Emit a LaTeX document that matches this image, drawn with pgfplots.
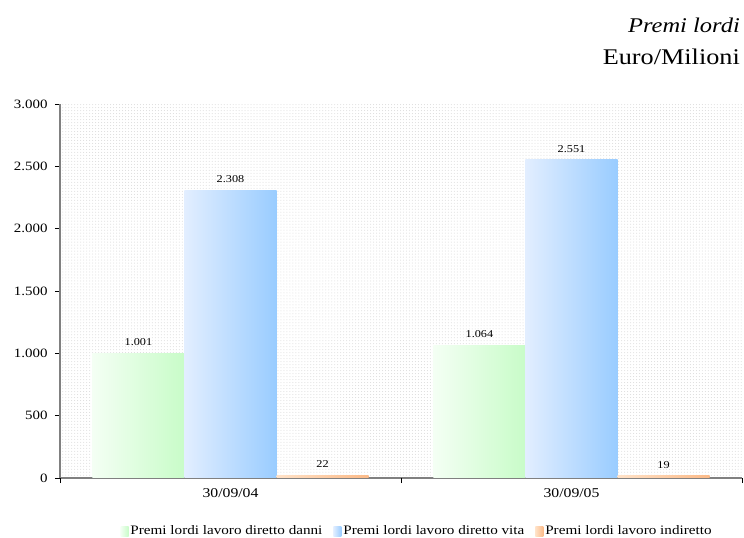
\documentclass[border=0pt]{standalone}
\usepackage{fontspec}
\setmainfont{Liberation Serif}[FakeStretch=1.17]
\usepackage{pgfplots}
\pgfplotsset{compat=1.18}
\usetikzlibrary{patterns}
\definecolor{gL}{HTML}{F4FFF4}
\definecolor{gR}{HTML}{C8FCC8}
\definecolor{bL}{HTML}{E2EEFF}
\definecolor{bR}{HTML}{99CCFF}
\definecolor{oL}{HTML}{FFE2C8}
\definecolor{oR}{HTML}{FBBA88}
\definecolor{axc}{HTML}{808080}
\begin{document}
\begin{tikzpicture}
\path[use as bounding box] (-60bp,-60bp) rectangle (684bp,478bp);
\begin{axis}[
  scale only axis, width=682bp, height=374bp,
  xmin=-0.5, xmax=1.5, ymin=0, ymax=3000,
  axis x line*=bottom, axis y line*=left,
  axis line style={draw=axc, line width=1.5bp},
  axis background/.style={pattern=dots, pattern color=gray!30},
  tick align=outside,
  ytick={0,500,...,3000},
  y tick style={draw=black, line width=0.8bp},
  major tick length=5bp,
  xtick={0,1}, xticklabels={30/09/04,30/09/05},
  x tick style={draw=none},
  extra x ticks={-0.5,0.5,1.5}, extra x tick labels={},
  extra x tick style={x tick style={draw=black, line width=0.8bp}},
  /pgf/number format/.cd, 1000 sep={.}, assume math mode=true,
  /pgfplots/.cd,
  yticklabel style={font=\fontsize{12.8}{13}\selectfont, xshift=-4bp},
  xticklabel style={font=\fontsize{13.5}{14}\selectfont, yshift=-2bp},
  ybar, bar width=0.27,
  nodes near coords,
  every node near coord/.append style={font=\fontsize{10.5}{11}\selectfont, text=black, yshift=4bp},
  legend style={at={(0.5235,-0.142)}, anchor=center, draw=none, fill=none,
    font=\fontsize{13}{14}\selectfont, legend columns=3,
    /tikz/every even column/.append style={column sep=9bp},
    inner sep=0pt},
  sq/.style={legend image code/.code={\path[##1] (0bp,-5bp) rectangle (8bp,5bp);}},
]
\addplot[ybar, bar shift=-0.27, draw=none, left color=gL, right color=gR, sq]
  coordinates {(0,1001)};
\addlegendentry{Premi lordi lavoro diretto danni}
\addplot[ybar, bar shift=0, draw=none, left color=bL, right color=bR, sq]
  coordinates {(0,2308)};
\addlegendentry{Premi lordi lavoro diretto vita}
\addplot[ybar, bar shift=0.27, draw=none, left color=oL, right color=oR, sq]
  coordinates {(0,22)};
\addlegendentry{Premi lordi lavoro indiretto}
\addplot[ybar, bar shift=-0.27, draw=none, left color=gL, right color=gR, forget plot]
  coordinates {(1,1064)};
\addplot[ybar, bar shift=0, draw=none, left color=bL, right color=bR, forget plot]
  coordinates {(1,2551)};
\addplot[ybar, bar shift=0.27, draw=none, left color=oL, right color=oR, forget plot]
  coordinates {(1,19)};
\end{axis}
\node[anchor=base east, font=\fontsize{21}{24}\selectfont\itshape, inner sep=0pt] at (680bp,445bp) {Premi lordi};
\node[anchor=base east, font=\fontsize{22.5}{24}\selectfont, inner sep=0pt] at (680bp,413bp) {Euro/Milioni};
\end{tikzpicture}
\end{document}
